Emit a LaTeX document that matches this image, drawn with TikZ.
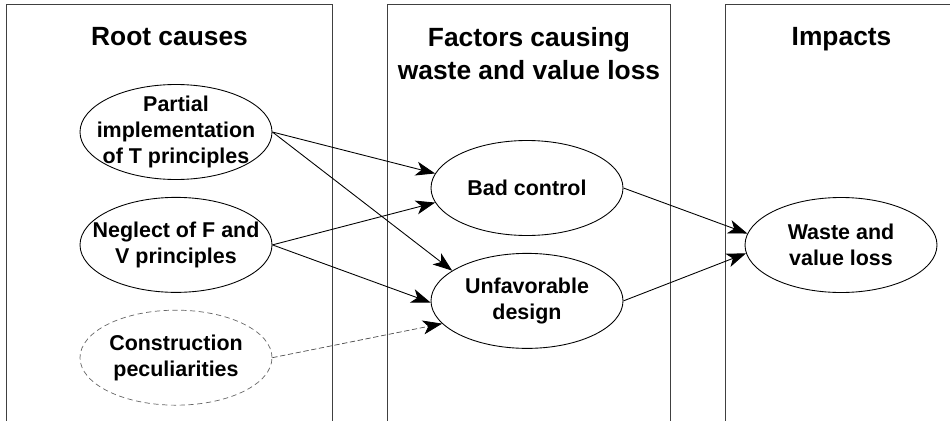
\documentclass[tikz,border=0pt]{standalone}
\usepackage{fontspec}
\setmainfont{Liberation Sans}
\usepackage{tikz}
\usetikzlibrary{positioning,arrows.meta,shapes}

\tikzset{
    column/.style={draw=black!75, line width=0.6pt, anchor=north west, minimum height=8.6cm, inner sep=0pt},
    heading/.style={font=\bfseries\fontsize{15}{19}\selectfont, inner sep=0pt, anchor=north},
    cause/.style={draw, ellipse, line width=0.5pt, minimum width=3.84cm, minimum height=1.9cm, inner sep=-0.35cm, font=\bfseries\fontsize{12.2}{14.6}\selectfont},
    flow/.style={-{Stealth[length=11pt, width=8pt, inset=3pt, black]}, line width=0.5pt},
}

\begin{document}
\begin{tikzpicture}[align=center]
    \useasboundingbox (0,0) rectangle (19,-8.4);

    \node [column, minimum width=6.52cm] (roots) at (0.12,-0.08) {};
    \node [column, minimum width=5.66cm] (factors) at (7.74,-0.08) {};
    \node [column, minimum width=4.64cm] (impacts) at (14.5,-0.08) {};

    \node [heading, below=0.46cm of roots.north] {Root causes};
    \node [heading, below=0.46cm of factors.north] {Factors causing\\waste and value loss};
    \node [heading, below=0.46cm of impacts.north] {Impacts};

    \node [cause] (partial) at (3.52,-2.64) {Partial\\implementation\\of T principles};
    \node [cause, below=0.34cm of partial] (neglect) {Neglect of F and\\V principles};
    \node [cause, below=0.34cm of neglect, draw=black!60, densely dashed, line width=0.4pt] (construction) {Construction\\peculiarities};

    \node [cause] (control) at (10.54,-3.76) {Bad control};
    \node [cause, below=0.34cm of control] (design) {Unfavorable\\design};

    \node [cause] (waste) at (16.82,-4.9) {Waste and\\value loss};

    \draw[flow] (partial.east) -- (control.171);
    \draw[flow] (partial.east) -- (design.158);
    \draw[flow] (neglect.east) -- (control.189);
    \draw[flow] (neglect.east) -- (design.181);
    \draw[flow, dash pattern=on 3pt off 1.5pt, draw=black!70, line width=0.4pt] (construction.east) -- (design.195);
    \draw[flow] (control.east) -- (waste.173);
    \draw[flow] (design.east) -- (waste.185);

\end{tikzpicture}
\end{document}
